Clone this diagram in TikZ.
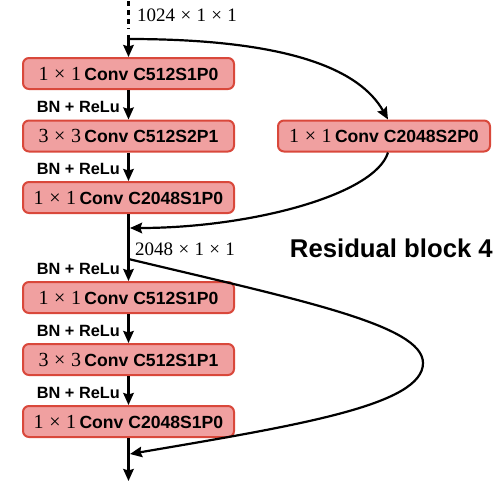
\documentclass[tikz,border=0pt]{standalone}
\usepackage{fontspec}
\setsansfont{Liberation Sans}
\newfontfamily\numfont{Liberation Serif}
\usetikzlibrary{arrows.meta}
\definecolor{boxfill}{RGB}{240,160,160}
\definecolor{boxdraw}{RGB}{217,72,59}
\newcommand{\tms}{\hspace{0.28em}×\hspace{0.28em}}
\newcommand{\mth}[1]{{\fontsize{20}{21}\selectfont\numfont #1}}
\newcommand{\lbl}[1]{{\fontsize{17.6}{19}\selectfont\sffamily\bfseries #1}}
\tikzset{
  convbox/.style={draw=boxdraw, fill=boxfill, line width=2pt, rounded corners=6pt,
    minimum width=211pt, minimum height=31pt, inner sep=0pt, align=center},
  arr/.style={line width=2.2pt, -{Stealth[length=12pt,width=10.5pt,inset=1.5pt]}},
  ln/.style={line width=2.2pt},
  bnlabel/.style={anchor=east, inner sep=0pt, font=\fontsize{16.3}{18}\selectfont\sffamily\bfseries},
}
\begin{document}
\begin{tikzpicture}[x=1pt,y=-1pt]
\useasboundingbox (0,0) rectangle (499,488);
% boxes
\node[convbox] (b1) at (128.5,73.5) {\mth{1\tms1} \lbl{Conv C512S1P0}};
\node[convbox] (b2) at (128.5,136) {\mth{3\tms3} \lbl{Conv C512S2P1}};
\node[convbox] (b3) at (128.5,197.5) {\mth{1\tms1} \lbl{Conv C2048S1P0}};
\node[convbox, minimum width=212pt] (b4) at (384,136) {\mth{1\tms1} \lbl{Conv C2048S2P0}};
\node[convbox] (b5) at (128.5,297.5) {\mth{1\tms1} \lbl{Conv C512S1P0}};
\node[convbox] (b6) at (128.5,359.5) {\mth{3\tms3} \lbl{Conv C512S1P1}};
\node[convbox] (b7) at (128.5,421.5) {\mth{1\tms1} \lbl{Conv C2048S1P0}};
% coordinates
\coordinate (dtop) at (128.5,1);
\coordinate (dbot) at (128.5,29);
\coordinate (tstart) at (128.5,35);
\coordinate (s1) at (128.5,39);
\coordinate (j1) at (130,228);
\coordinate (s2) at (128.5,259);
\coordinate (m2) at (423,363);
\coordinate (j2) at (130,454);
\coordinate (tend) at (128.5,481);
% texts
\node[anchor=base west, inner sep=0pt] (in) at (137,21) {\fontsize{19}{20}\selectfont\numfont 1024\tms1\tms1};
\node[anchor=base west, inner sep=0pt] (mid) at (135,255) {\fontsize{19}{20}\selectfont\numfont 2048\tms1\tms1};
\node[anchor=base east, inner sep=0pt, font=\fontsize{25.7}{28}\selectfont\sffamily\bfseries] (title) at (493,257) {Residual block 4};
\node[bnlabel] (l1) at (120,107) {BN + ReLu};
\node[bnlabel] (l2) at (120,169) {BN + ReLu};
\node[bnlabel] (l3) at (120,269) {BN + ReLu};
\node[bnlabel] (l4) at (120,331) {BN + ReLu};
\node[bnlabel] (l5) at (120,393) {BN + ReLu};
% main column
\draw[ln, dash pattern=on 5pt off 4pt] (dtop) -- (dbot);
\draw[arr] (tstart) -- (b1.north);
\draw[arr] (b1.south) -- (b2.north);
\draw[arr] (b2.south) -- (b3.north);
\draw[arr] (b3.south) -- (b5.north);
\draw[arr] (b5.south) -- (b6.north);
\draw[arr] (b6.south) -- (b7.north);
\draw[arr] (b7.south) -- (tend);
% shortcut 1
\draw[arr] (s1) .. controls (290,39) and (360,70) .. ([xshift=4pt]b4.north);
\draw[arr] ([xshift=4pt]b4.south) .. controls (375,195) and (250,228) .. (j1);
% shortcut 2
\draw[arr] (s2) .. controls (300,300) and (423,325) .. (m2) .. controls (423,405) and (300,425) .. (j2);
\end{tikzpicture}
\end{document}
